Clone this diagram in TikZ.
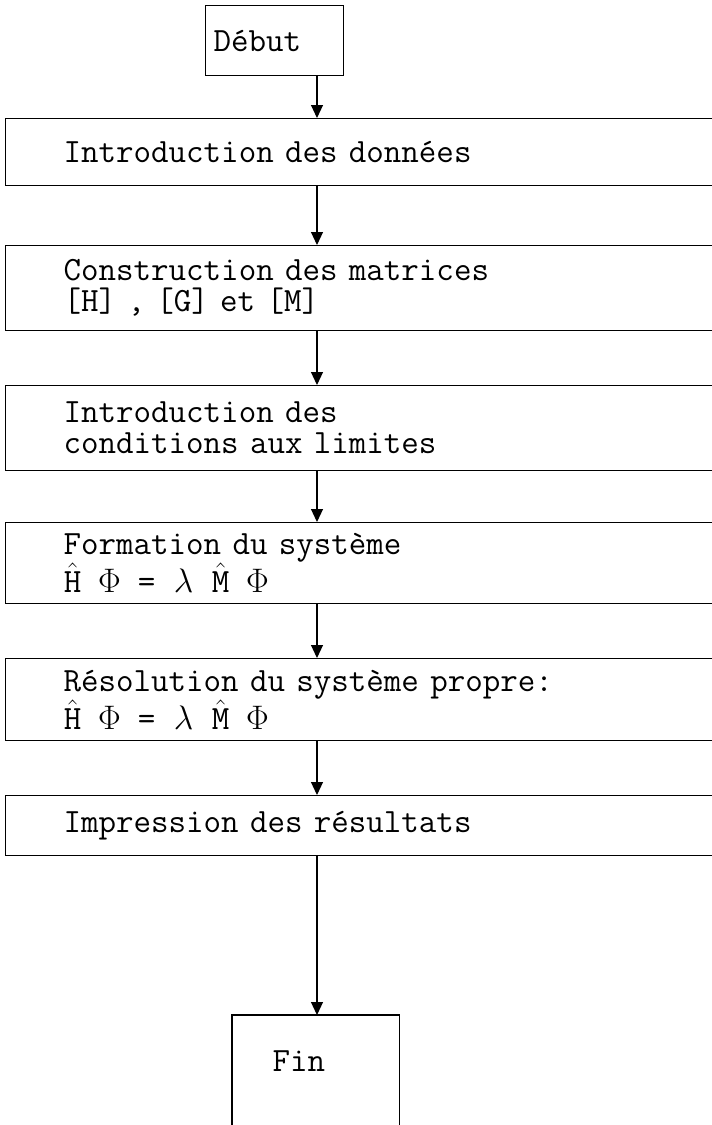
\RequirePackage{fix-cm}
\documentclass[tikz,border=0pt]{standalone}
\usepackage{fontspec}
\usetikzlibrary{arrows.meta}
\newcommand\mcell[1]{\makebox[37pt][l]{\makebox[0.525em]{#1}}}
\newcommand\eqline{\mcell{$\hat{\texttt{H}}$}\mcell{$\Phi$}\mcell{=}\mcell{$\lambda$}\mcell{$\hat{\texttt{M}}$}\mcell{$\Phi$}}
\tikzset{
  stepbox/.style={draw, line width=1.3pt, font=\ttfamily\fontsize{34}{31}\selectfont,
    align=left, anchor=north west, inner ysep=0pt},
  widebox/.style={stepbox, inner xsep=58pt, text width=619pt},
  arr/.style={line width=1.1pt, -{Triangle[length=13pt,width=12pt]}}
}
\begin{document}
\begin{tikzpicture}[x=1pt,y=-1pt]
\useasboundingbox (0,0) rectangle (712,1125);
\coordinate (ax) at (317,0);
\node[stepbox, inner xsep=8pt, text width=122pt, minimum height=70pt] (debut) at (205,5) {Début};
\node[widebox, minimum height=67pt] (intro) at (5,118) {Introduction des données};
\node[widebox, minimum height=85pt] (constr) at (5,245) {Construction des matrices\\{}[H] , [G] et [M]};
\node[widebox, minimum height=85pt] (cond) at (5,385) {Introduction des\\conditions aux limites};
\node[widebox, minimum height=81pt] (form) at (5,522) {Formation du système\\\eqline};
\node[widebox, minimum height=82pt] (reso) at (5,658) {Résolution du système propre:\\\eqline};
\node[widebox, minimum height=60pt] (impr) at (5,795) {Impression des résultats};
\node[stepbox, draw=none, inner xsep=40pt, text width=86pt, minimum height=90pt] (fin) at (232,1015) {Fin};
\draw[line width=1.3pt] ([yshift=-40pt]fin.south west) -- (fin.north west) -- (fin.north east) -- ([yshift=-40pt]fin.south east);
\draw[arr] (debut.south -| ax) -- (intro.north -| ax);
\draw[arr] (intro.south -| ax) -- (constr.north -| ax);
\draw[arr] (constr.south -| ax) -- (cond.north -| ax);
\draw[arr] (cond.south -| ax) -- (form.north -| ax);
\draw[arr] (form.south -| ax) -- (reso.north -| ax);
\draw[arr] (reso.south -| ax) -- (impr.north -| ax);
\draw[arr] (impr.south -| ax) -- (fin.north -| ax);
\end{tikzpicture}
\end{document}
